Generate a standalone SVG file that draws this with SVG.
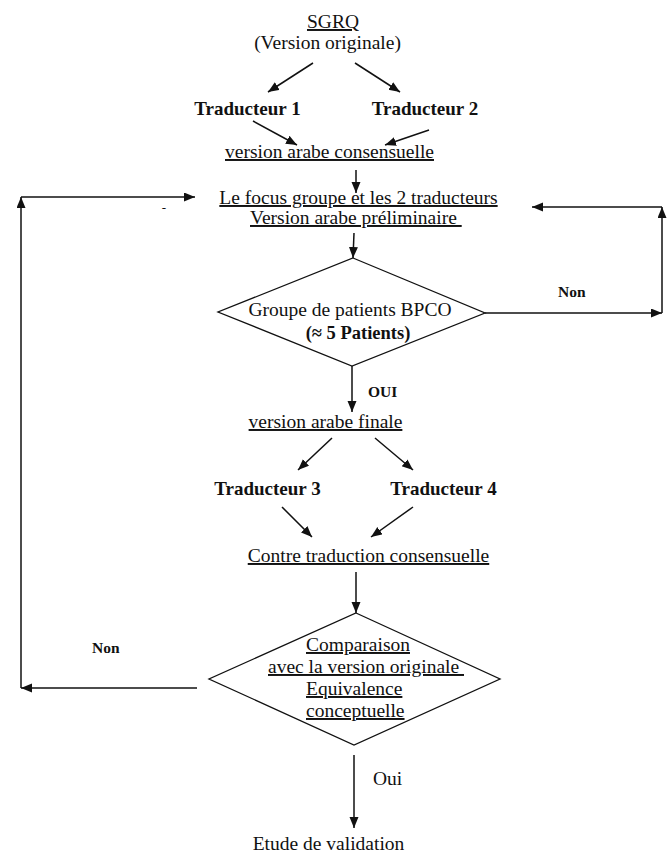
<svg xmlns="http://www.w3.org/2000/svg" width="672" height="854" viewBox="0 0 672 854">
  <style>
    text { font-family: "Liberation Serif", "Times New Roman", serif; fill: #111; }
    .t { font-size: 19.5px; }
    .u { text-decoration: underline; }
    .b { font-size: 19px; font-weight: bold; }
    .sb { font-size: 15.5px; font-weight: bold; }
    .m { text-anchor: middle; }
    .shape { fill: #fff; stroke: #111; stroke-width: 1.3; }
    .c line, .c polyline { stroke: #111; stroke-width: 1.5; fill: none; marker-end: url(#ah); }
    .c .plain { marker-end: none; }
  </style>
  <defs>
    <marker id="ah" markerUnits="userSpaceOnUse" markerWidth="12" markerHeight="10" refX="11" refY="4.5" orient="auto">
      <path d="M0,0 L11,4.5 L0,9 z" fill="#111"/>
    </marker>
  </defs>
  <rect width="672" height="854" fill="#fff"/>

  <g id="connectors" class="c">
    <line x1="313" y1="63" x2="268" y2="92"/>
    <line x1="355" y1="63" x2="400" y2="92"/>
    <line x1="253" y1="121" x2="297" y2="145"/>
    <line x1="429" y1="130" x2="385" y2="145"/>
    <line x1="356" y1="170" x2="356" y2="193"/>
    <line x1="354" y1="233" x2="353" y2="258"/>
    <!-- right loop (Non) -->
    <line x1="485" y1="313" x2="662" y2="313"/>
    <line x1="662" y1="313" x2="662" y2="207"/>
    <line x1="662" y1="207" x2="532" y2="207"/>
    <!-- OUI -->
    <line x1="352" y1="366" x2="352" y2="412"/>
    <line x1="332" y1="438" x2="298" y2="470"/>
    <line x1="375" y1="438" x2="413" y2="470"/>
    <line x1="282" y1="507" x2="312" y2="537"/>
    <line x1="413" y1="507" x2="371" y2="537"/>
    <line x1="356" y1="572" x2="356" y2="613"/>
    <!-- left loop (Non) -->
    <line x1="197" y1="688" x2="21" y2="688"/>
    <line x1="21" y1="688" x2="21" y2="197"/>
    <line x1="21" y1="197" x2="195" y2="197"/>
    <!-- Oui -->
    <line x1="354" y1="755" x2="354" y2="828"/>
    <text class="sb" x="558" y="297">Non</text>
    <text class="sb" x="368" y="397">OUI</text>
    <text class="sb" x="92" y="653">Non</text>
    <text class="t" x="373" y="785">Oui</text>
    <text x="164" y="212" style="font-size:13px" class="m">-</text>
  </g>

  <g id="sgrq">
    <text class="t u m" x="333" y="28">SGRQ</text>
    <text class="t m" x="327.5" y="49">(Version originale)</text>
  </g>
  <g id="traducteur1"><text class="b m" x="247.5" y="115">Traducteur 1</text></g>
  <g id="traducteur2"><text class="b m" x="425" y="115">Traducteur 2</text></g>
  <g id="version-consensuelle"><text class="t u m" x="329.5" y="158">version arabe consensuelle</text></g>
  <g id="focus-groupe">
    <text class="t u m" x="358.5" y="204">Le focus groupe et les 2 traducteurs</text>
    <text class="t u" x="250" y="224" xml:space="preserve">Version arabe préliminaire </text>
  </g>
  <g id="groupe-patients">
    <polygon class="shape" points="353,258 485,313 352,366 218,312"/>
    <text class="t m" x="350" y="316">Groupe de patients BPCO</text>
    <text class="b m" x="358" y="339" style="font-size:18.5px">(≈ 5 Patients)</text>
  </g>
  <g id="version-finale"><text class="t u m" x="325.5" y="428">version arabe finale</text></g>
  <g id="traducteur3"><text class="b m" x="267.5" y="495">Traducteur 3</text></g>
  <g id="traducteur4"><text class="b m" x="443.5" y="495">Traducteur 4</text></g>
  <g id="contre-traduction"><text class="t u m" x="368.5" y="562">Contre traduction consensuelle</text></g>
  <g id="comparaison">
    <polygon class="shape" points="356,613 500,679 354,745 209,679"/>
    <text class="t u" x="306" y="651">Comparaison</text>
    <text class="t u" x="268" y="673" xml:space="preserve">avec la version originale </text>
    <text class="t u" x="306" y="695">Equivalence</text>
    <text class="t u" x="306" y="717">conceptuelle</text>
  </g>
  <g id="etude-validation"><text class="t m" x="328.5" y="850">Etude de validation</text></g>
</svg>
